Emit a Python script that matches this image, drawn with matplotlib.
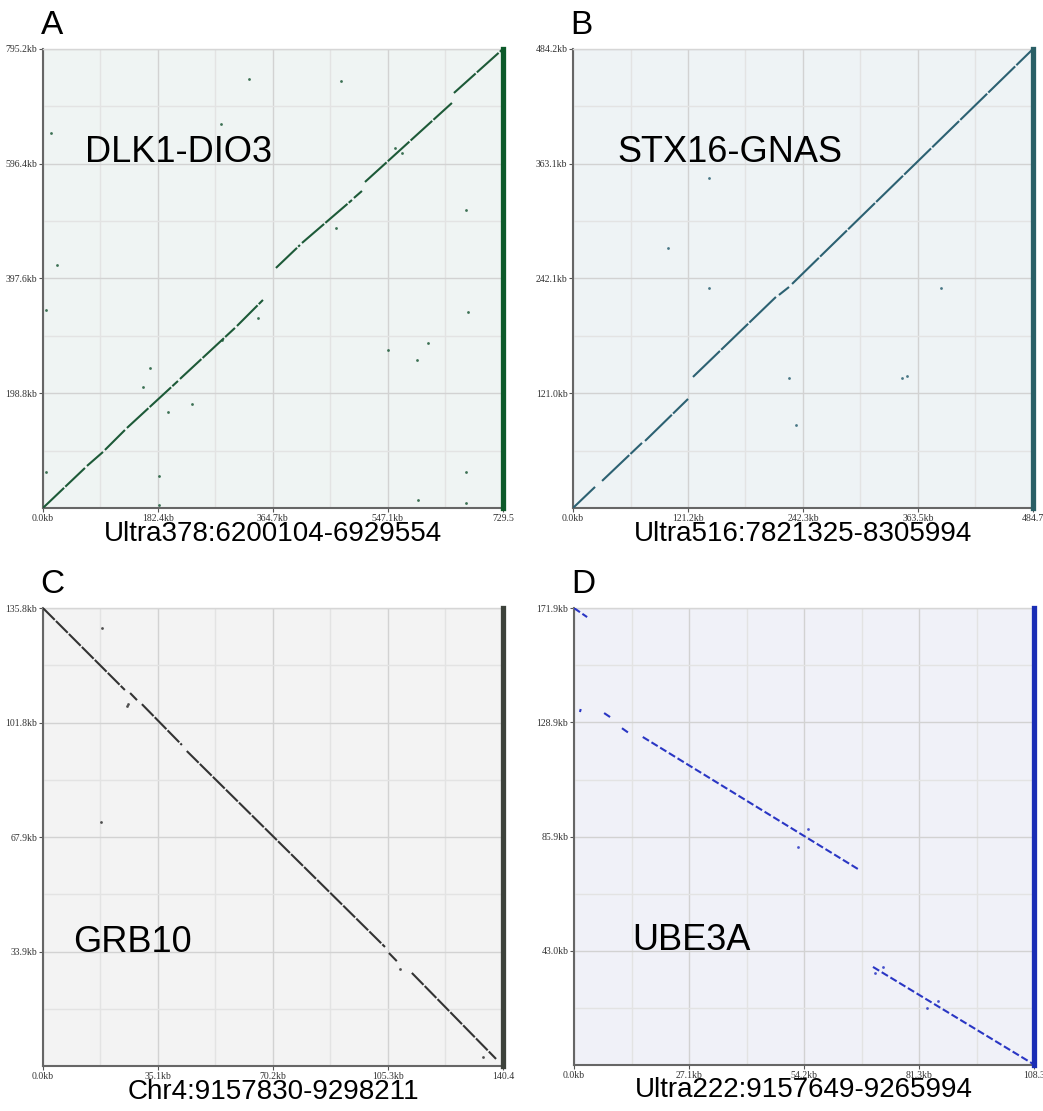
import matplotlib
matplotlib.use("Agg")
import matplotlib.pyplot as plt
from matplotlib.ticker import FixedLocator

# ---------------- Panel A : DLK1-DIO3 ----------------
a_xmax, a_ymax = 729.5, 795.2
a_xticks = [0, 182.4, 364.7, 547.1, 729.5]
a_xlabels = ["0.0kb", "182.4kb", "364.7kb", "547.1kb", "729.5"]
a_yticks = [198.8, 397.6, 596.4, 795.2]
a_ylabels = ["198.8kb", "397.6kb", "596.4kb", "795.2kb"]
a_segments = [(0, 66.6, 0, 69.3), (69.8, 95.2, 72.8, 97.0), (98.3, 130.0, 100.5, 135.1),
              (133.2, 214.1, 138.6, 220.0), (217.3, 304.5, 223.5, 311.9),
              (307.7, 348.9, 315.3, 360.4), (369.5, 407.6, 415.8, 455.6),
              (410.8, 490.1, 459.1, 533.6), (493.2, 505.9, 537.1, 549.2),
              (510.7, 648.6, 564.8, 701.7), (651.8, 729.5, 719.0, 795.2)]
a_dots_x = [326.7, 472.6, 282.3, 12.7, 558.2, 569.3, 22.2, 4.8, 670.8, 674.0, 593.1, 610.6,
            547.1, 464.7, 341.0, 283.9, 236.3, 169.7, 158.6, 198.2, 4.8, 184.0, 184.0,
            670.8, 670.8, 594.7]
a_dots_y = [743.2, 739.8, 665.3, 649.7, 623.7, 615.0, 421.0, 343.0, 516.3, 339.6, 256.4, 285.9,
            273.7, 485.1, 329.2, 291.1, 180.2, 242.6, 209.6, 166.3, 62.4, 55.4, 5.2,
            62.4, 8.7, 13.9]

# ---------------- Panel B : STX16-GNAS ----------------
b_xmax, b_ymax = 484.7, 484.2
b_xticks = [0, 121.2, 242.3, 363.5, 484.7]
b_xlabels = ["0.0kb", "121.2kb", "242.3kb", "363.5kb", "484.7"]
b_yticks = [121.0, 242.1, 363.1, 484.2]
b_ylabels = ["121.0kb", "242.1kb", "363.1kb", "484.2kb"]
b_segments = [(0, 23.2, 0, 22.2), (30.6, 72.7, 28.5, 68.6), (75.9, 121.2, 70.7, 115.0),
              (126.4, 213.8, 138.2, 222.6), (217.0, 227.6, 224.7, 233.1),
              (230.8, 484.7, 236.3, 484.2)]
b_dots_x = [100.1, 143.3, 143.3, 227.6, 235.0, 346.4, 351.7, 387.5]
b_dots_y = [274.3, 348.1, 232.1, 137.1, 87.6, 137.1, 139.2, 232.1]

# ---------------- Panel C : GRB10 ----------------
c_xmax, c_ymax = 140.4, 135.8
c_xticks = [0, 35.1, 70.2, 105.3, 140.4]
c_xlabels = ["0.0kb", "35.1kb", "70.2kb", "105.3kb", "140.4"]
c_yticks = [33.9, 67.9, 101.8, 135.8]
c_ylabels = ["33.9kb", "67.9kb", "101.8kb", "135.8kb"]
c_segments = [(0, 25.0, 135.8, 111.5), (26.6, 28.7, 110.6, 108.5), (30.2, 42.4, 107.3, 95.2),
              (43.9, 104.4, 93.4, 35.3), (105.6, 108.0, 33.5, 31.1), (112.6, 138.3, 27.6, 2.1)]
c_dots_x = [18.0, 25.6, 26.1, 17.7, 109.0, 134.3]
c_dots_y = [129.9, 106.7, 107.4, 72.3, 28.8, 2.7]

# ---------------- Panel D : UBE3A ----------------
d_xmax, d_ymax = 108.3, 171.9
d_xticks = [0, 27.1, 54.2, 81.3, 108.3]
d_xlabels = ["0.0kb", "27.1kb", "54.2kb", "81.3kb", "108.3"]
d_yticks = [43.0, 85.9, 128.9, 171.9]
d_ylabels = ["43.0kb", "85.9kb", "128.9kb", "171.9kb"]
d_segments = [(0, 3.1, 171.9, 168.5), (1.4, 1.6, 132.8, 133.9), (7.1, 8.5, 132.4, 130.9),
              (11.3, 12.9, 126.7, 124.9), (16.2, 67.3, 123.4, 73.3), (70.4, 108.1, 36.9, 0.4)]
d_dots_x = [55.1, 52.7, 70.9, 72.7, 85.7, 83.1]
d_dots_y = [88.8, 82.0, 34.6, 36.9, 24.1, 21.4]

panels = [
    dict(letter="A", gene="DLK1-DIO3", xlabel="Ultra378:6200104-6929554",
         rect=[0.0412, 0.5428, 0.4410, 0.4131], xmax=a_xmax, ymax=a_ymax,
         xticks=a_xticks, xlabels=a_xlabels, yticks=a_yticks, ylabels=a_ylabels,
         segs=a_segments, dx=a_dots_x, dy=a_dots_y, color="#1d5a38", bar="#0d5a2a",
         bg="#eff4f3", gpos=(0.091, 0.754), dash=(0, (14, 0.8))),
    dict(letter="B", gene="STX16-GNAS", xlabel="Ultra516:7821325-8305994",
         rect=[0.5494, 0.5428, 0.4410, 0.4131], xmax=b_xmax, ymax=b_ymax,
         xticks=b_xticks, xlabels=b_xlabels, yticks=b_yticks, ylabels=b_ylabels,
         segs=b_segments, dx=b_dots_x, dy=b_dots_y, color="#2c6172", bar="#2a5f66",
         bg="#eef3f5", gpos=(0.096, 0.754), dash=(0, (18, 0.8))),
    dict(letter="C", gene="GRB10", xlabel="Chr4:9157830-9298211",
         rect=[0.0412, 0.0405, 0.4410, 0.4122], xmax=c_xmax, ymax=c_ymax,
         xticks=c_xticks, xlabels=c_xlabels, yticks=c_yticks, ylabels=c_ylabels,
         segs=c_segments, dx=c_dots_x, dy=c_dots_y, color="#333333", bar="#3d423b",
         bg="#f3f3f3", gpos=(0.065, 0.25), dash=(0, (8, 0.8))),
    dict(letter="D", gene="UBE3A", xlabel="Ultra222:9157649-9265994",
         rect=[0.5503, 0.0414, 0.4410, 0.4113], xmax=d_xmax, ymax=d_ymax,
         xticks=d_xticks, xlabels=d_xlabels, yticks=d_yticks, ylabels=d_ylabels,
         segs=d_segments, dx=d_dots_x, dy=d_dots_y, color="#2a36c4", bar="#1a2db5",
         bg="#f0f1f8", gpos=(0.126, 0.252), dash=(0, (3.5, 1.4))),
]

fig = plt.figure(figsize=(10.43, 11.11), dpi=100)
fig.patch.set_facecolor("white")

for p in panels:
    ax = fig.add_axes(p["rect"])
    ax.set_facecolor(p["bg"])
    ax.set_xlim(0, p["xmax"])
    ax.set_ylim(0, p["ymax"])
    # grid: major at ticks, minor at midpoints
    xt = p["xticks"]
    yt = [0] + p["yticks"]
    xminor = [(xt[i] + xt[i + 1]) / 2 for i in range(len(xt) - 1)]
    yminor = [(yt[i] + yt[i + 1]) / 2 for i in range(len(yt) - 1)]
    ax.xaxis.set_major_locator(FixedLocator(xt))
    ax.yaxis.set_major_locator(FixedLocator(p["yticks"]))
    ax.xaxis.set_minor_locator(FixedLocator(xminor))
    ax.yaxis.set_minor_locator(FixedLocator(yminor))
    ax.set_xticklabels(p["xlabels"], family="Liberation Serif", fontsize=7, color="#333333")
    ax.set_yticklabels(p["ylabels"], family="Liberation Serif", fontsize=7, color="#333333")
    ax.grid(which="major", color="#d2d2d2", lw=1.0)
    ax.grid(which="minor", color="#e3e3e3", lw=1.0)
    ax.tick_params(which="major", length=3, width=0.8, color="#555555", pad=1)
    ax.tick_params(which="minor", length=0)
    ax.set_axisbelow(True)
    for s in ["left", "bottom"]:
        ax.spines[s].set_color("#666666")
        ax.spines[s].set_linewidth(1.5)
    ax.spines["top"].set_color("#d6d6d6")
    ax.spines["top"].set_linewidth(1.0)
    ax.spines["right"].set_visible(False)

    for (x0, x1, y0, y1) in p["segs"]:
        ax.plot([x0, x1], [y0, y1], color=p["color"], lw=1.5, ls=p["dash"],
                solid_capstyle="butt", zorder=3)
    ax.plot(p["dx"], p["dy"], ls="none", marker="o", ms=2.0, mew=0,
            color=p["color"], alpha=0.85, zorder=3)
    ax.axvline(p["xmax"], color=p["bar"], lw=3.8, clip_on=False, zorder=4)

    ax.text(p["gpos"][0], p["gpos"][1], p["gene"], transform=ax.transAxes,
            family="Liberation Sans", fontsize=26, color="black", ha="left", va="baseline")
    ax.text(0.5, -0.071, p["xlabel"], transform=ax.transAxes, family="Liberation Sans",
            fontsize=20, color="black", ha="center", va="baseline")
    ax.text(-0.005, 1.033, p["letter"], transform=ax.transAxes, family="Liberation Sans",
            fontsize=24, color="black", ha="left", va="baseline")

fig.savefig("out.png", dpi=100)
